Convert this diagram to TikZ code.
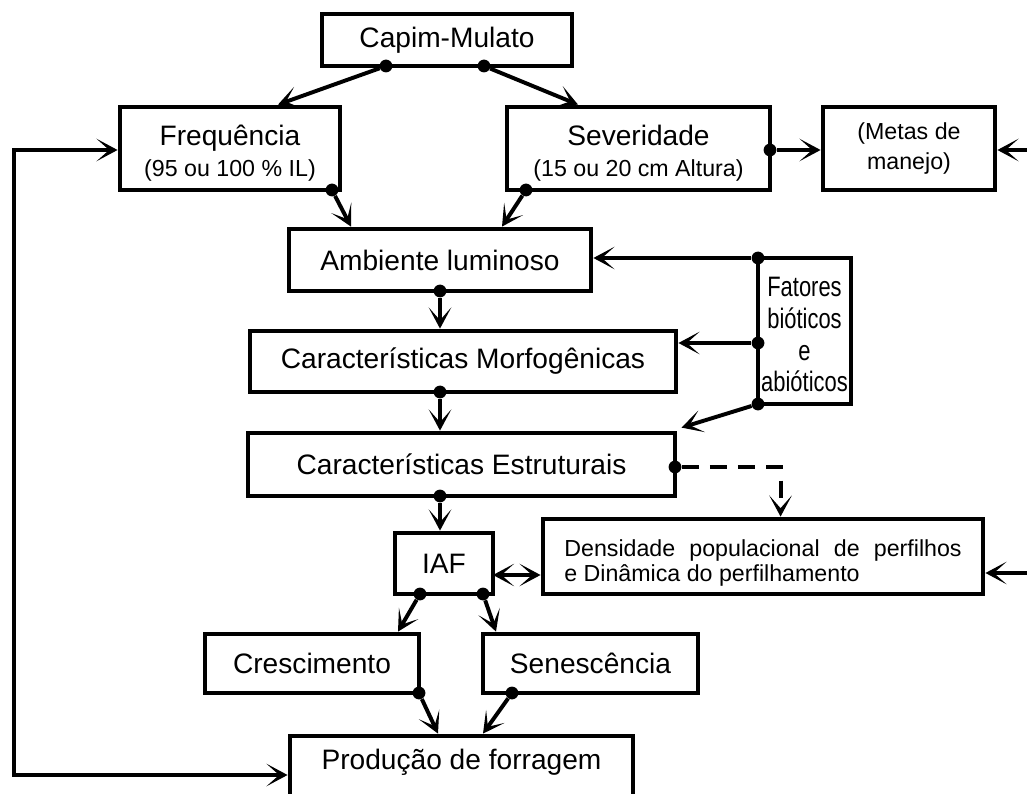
\documentclass[tikz,border=0pt]{standalone}
\usepackage{fontspec}
\setmainfont{Liberation Sans}
\usepackage{graphicx}
\usepackage{tikz}
\usetikzlibrary{arrows.meta}
\usetikzlibrary{calc}

\newcommand{\subsz}{\fontsize{16.5}{20}\selectfont}
\newcommand{\narrow}[1]{\scalebox{0.78}[1]{#1}}

\begin{document}
\begin{tikzpicture}[x=0.025cm, y=-0.025cm,
  box/.style={draw, rectangle, line width=3.4pt, inner sep=0pt, align=center, font=\fontsize{20}{22}\selectfont},
  jn/.style={circle, fill, inner sep=0pt, minimum size=0.32cm},
  arr/.style={-{Stealth[length=15pt, width=16pt, inset=9pt]}, line width=2.8pt},
  arrs/.style={{Stealth[length=15pt, width=16pt, inset=9pt]}-{Stealth[length=15pt, width=16pt, inset=9pt]}, line width=2.8pt}]
  \useasboundingbox (0,0) rectangle (1027,794);

  \node[box, minimum width=6.25cm, minimum height=1.3cm] at (447,40) (capim) {Capim-Mulato};
  \node[box, minimum width=5.5cm, minimum height=2.075cm] at (230,148.5) (freq) {\rule{0pt}{21pt}Frequência\\{\subsz (95 ou 100 \% IL)}};
  \node[box, minimum width=6.575cm, minimum height=2.075cm] at (638.5,148.5) (sev) {\rule{0pt}{21pt}Severidade\\{\subsz (15 ou 20 cm Altura)}};
  \node[box, minimum width=4.3cm, minimum height=2.075cm, font=\fontsize{16.5}{22}\selectfont] at (909,148.5) (metas) {(Metas de\\manejo)};
  \node[box, minimum width=7.55cm, minimum height=1.55cm] at (440,260) (amb) {Ambiente luminoso};
  \node[box, minimum width=2.325cm, minimum height=3.65cm, font=\fontsize{20}{22.5}\selectfont] at (804.5,331) (fat) {\rule{0pt}{19pt}\narrow{Fatores}\\\narrow{bióticos}\\\narrow{e}\\\narrow{abióticos}};
  \node[box, minimum width=10.65cm, minimum height=1.525cm] at (463,361.5) (morfo) {Características Morfogênicas};
  \node[box, minimum width=10.675cm, minimum height=1.575cm] at (461.5,464.5) (estr) {Características Estruturais};
  \node[box, minimum width=2.45cm, minimum height=1.525cm] at (444,563.5) (iaf) {IAF};
  \node[box, minimum width=11cm, minimum height=1.875cm, text width=9.93cm, align=justify, font=\fontsize{16.5}{17.8}\selectfont] at (763,556.5) (dens) {\rule{0pt}{21pt}Densidade populacional de perfilhos\linebreak e Dinâmica do perfilhamento};
  \node[box, minimum width=5.35cm, minimum height=1.475cm] at (312,663.5) (cresc) {Crescimento};
  \node[box, minimum width=5.375cm, minimum height=1.475cm] at (590.5,663.5) (sen) {Senescência};
  \node[box, minimum width=8.575cm, minimum height=1.75cm, text depth=17pt] at (461.5,771) (prod) {Produção de forragem};

  % pontos de saida
  \node[jn] at (386,66) (capimL) {};
  \node[jn] at (484,66) (capimR) {};
  \node[jn] at (332,190) (freqD) {};
  \node[jn] at (526,190) (sevD) {};
  \node[jn] at (770,150) (sevR) {};
  \node[jn] at (440,291) (ambD) {};
  \node[jn] at (440,392) (morfoD) {};
  \node[jn] at (440,496) (estrD) {};
  \node[jn] at (675,467) (estrR) {};
  \node[jn] at (758,258) (fatA) {};
  \node[jn] at (758,343) (fatB) {};
  \node[jn] at (758,404) (fatC) {};
  \node[jn] at (420,594) (iafL) {};
  \node[jn] at (483,594) (iafR) {};
  \node[jn] at (419,693) (crescD) {};
  \node[jn] at (512,693) (senD) {};

  \coordinate (inMetas) at (1027,150);
  \coordinate (inDens) at (1027,573);
  \coordinate (loopT) at (14,150);
  \coordinate (loopB) at (14,775);
  \coordinate (iafE) at (493,575);

  \draw[arr] (capimL) -- ($(freq.north)+(48,0)$);
  \draw[arr] (capimR) -- ($(sev.north)+(-60.5,0)$);
  \draw[arr] (freqD) -- ($(amb.north)+(-89,0)$);
  \draw[arr] (sevD) -- ($(amb.north)+(62,0)$);
  \draw[arr] (sevR) -- (metas.west |- sevR);
  \draw[arr] (inMetas) -- (metas.east |- inMetas);
  \draw[arr] (ambD) -- (morfo.north -| ambD);
  \draw[arr] (morfoD) -- (estr.north -| morfoD);
  \draw[arr] (estrD) -- (iaf.north -| estrD);
  \draw[arr] (fatA) -- (amb.east |- fatA);
  \draw[arr] (fatB) -- (morfo.east |- fatB);
  \draw[arr] (fatC) -- ($(estr.north east)+(4,-3)$);
  \draw[arr, dash pattern=on 12pt off 8pt] (estrR) -| ($(dens.north west)+(240,0)$);
  \draw[arrs] (iafE) -- (dens.west |- iafE);
  \draw[arr] (inDens) -- (dens.east |- inDens);
  \draw[arr] (iafL) -- ($(cresc.north)+(86,0)$);
  \draw[arr] (iafR) -- ($(sen.north)+(-94.5,0)$);
  \draw[arr] (crescD) -- ($(prod.north)+(-23.5,0)$);
  \draw[arr] (senD) -- ($(prod.north)+(21.5,0)$);
  \draw[arrs] (freq.west |- loopT) -- (loopT) -- (loopB) -- (prod.west |- loopB);
\end{tikzpicture}
\end{document}
